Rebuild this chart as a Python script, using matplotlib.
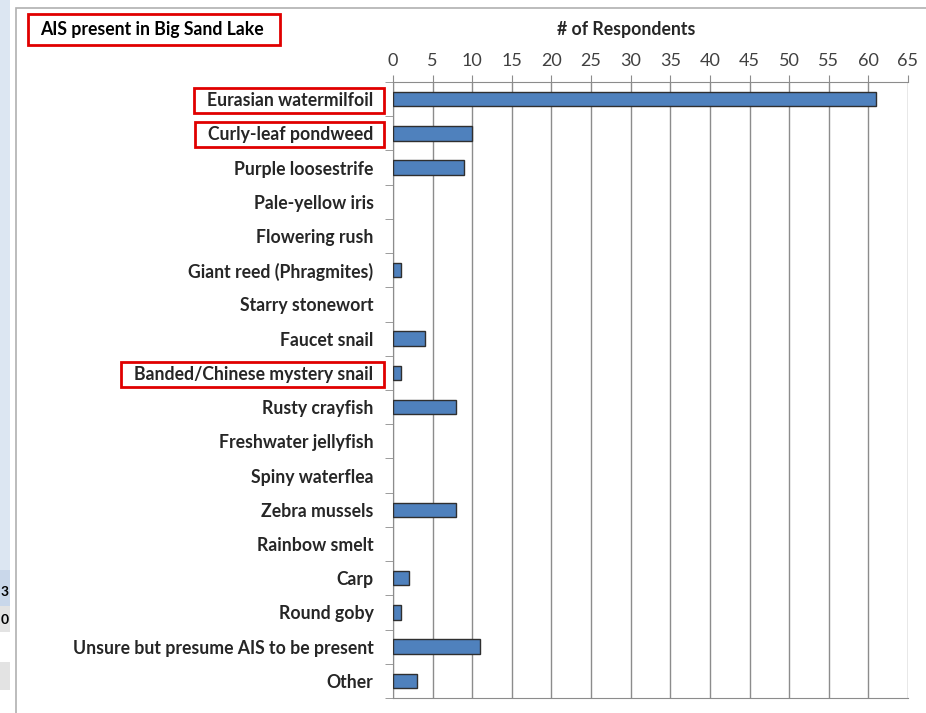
import matplotlib.pyplot as plt
from matplotlib.patches import Rectangle

# data
species = ["Eurasian watermilfoil", "Curly-leaf pondweed", "Purple loosestrife",
           "Pale-yellow iris", "Flowering rush", "Giant reed (Phragmites)",
           "Starry stonewort", "Faucet snail", "Banded/Chinese mystery snail",
           "Rusty crayfish", "Freshwater jellyfish", "Spiny waterflea",
           "Zebra mussels", "Rainbow smelt", "Carp", "Round goby",
           "Unsure but presume AIS to be present", "Other"]
respondents = [61, 10, 9, 0, 0, 1, 0, 4, 1, 8, 0, 0, 8, 0, 2, 1, 11, 3]
highlighted = ["Eurasian watermilfoil", "Curly-leaf pondweed", "Banded/Chinese mystery snail"]
xticks = list(range(0, 70, 5))

plt.rcParams['font.family'] = ['Lato', 'DejaVu Sans']

W, H = 926, 713
fig = plt.figure(figsize=(W / 100, H / 100), dpi=100)

def px(x0, y0, w, h):
    # rectangle in figure fraction from pixel box (top-left origin)
    return (x0 / W, 1 - (y0 + h) / H), w / W, h / H

# screenshot leftovers on the left edge
for (x0, y0, w, h, c) in [(0, 0, 10, 570, '#dce6f2'), (0, 570, 10, 36, '#c9d7ea'),
                          (0, 606, 10, 26, '#e3e3e3'), (0, 662, 10, 28, '#e3e3e3')]:
    xy, ww, hh = px(x0, y0, w, h)
    fig.patches.append(Rectangle(xy, ww, hh, transform=fig.transFigure,
                                 facecolor=c, edgecolor='none'))
fig.text(1 / W, 1 - 592 / H, "3", fontsize=10, fontweight='bold', va='center', ha='left')
fig.text(1 / W, 1 - 620 / H, "0", fontsize=10, fontweight='bold', va='center', ha='left')

# chart frame
xy, ww, hh = px(16, 8, 940, 740)
fig.patches.append(Rectangle(xy, ww, hh, transform=fig.transFigure,
                             facecolor='none', edgecolor='#b0b0b0', lw=1.2))

ax = fig.add_axes([393 / W, 1 - 698 / H, (908 - 393) / W, (698 - 82) / H])
pos = list(range(len(species)))
ax.barh(pos, respondents, height=0.42, color='#4f81bd', edgecolor='#2f2f2f',
        lw=[1 if v > 0 else 0 for v in respondents], zorder=3)
ax.set_ylim(len(species) - 0.5, -0.5)
ax.set_xlim(0, 65)
ax.set_xticks(xticks)
ax.xaxis.tick_top()
ax.tick_params(axis='x', length=5, color='#8c8c8c', labelsize=13,
               labelcolor='#404040', pad=4)
ax.grid(axis='x', color='#8c8c8c', lw=1, zorder=0)

ax.set_yticks(pos)
ax.set_yticklabels(species, fontsize=12.7, fontweight='bold', color='#262626')
ax.set_yticks([p - 0.5 for p in pos] + [len(species) - 0.5], minor=True)
ax.tick_params(axis='y', which='major', length=0, pad=14)
ax.tick_params(axis='y', which='minor', length=6, color='#8c8c8c')

for s in ['left', 'top', 'bottom']:
    ax.spines[s].set_color('#8c8c8c')
ax.spines['right'].set_visible(False)

fig.text(626 / W, 1 - 30 / H, "# of Respondents", fontsize=12.7, fontweight='bold',
         ha='center', va='center', color='#262626')
fig.text(40 / W, 1 - 29 / H, "AIS present in Big Sand Lake", fontsize=12.7,
         fontweight='bold', ha='left', va='center', color='black')
xy, ww, hh = px(28, 14, 252, 31)
fig.patches.append(Rectangle(xy, ww, hh, transform=fig.transFigure,
                             facecolor='none', edgecolor='#e00000', lw=2))

# red boxes round the highlighted labels
fig.canvas.draw()
for lab in ax.get_yticklabels():
    if lab.get_text() in highlighted:
        bb = lab.get_window_extent()
        x0, x1 = bb.x0 - 13, bb.x1 + 10
        y0, y1 = bb.y0 - 4, bb.y1 + 4
        fig.patches.append(Rectangle((x0 / W, y0 / H), (x1 - x0) / W, (y1 - y0) / H,
                                     transform=fig.transFigure, facecolor='none',
                                     edgecolor='#e00000', lw=2))

fig.savefig("out.png", dpi=100)
